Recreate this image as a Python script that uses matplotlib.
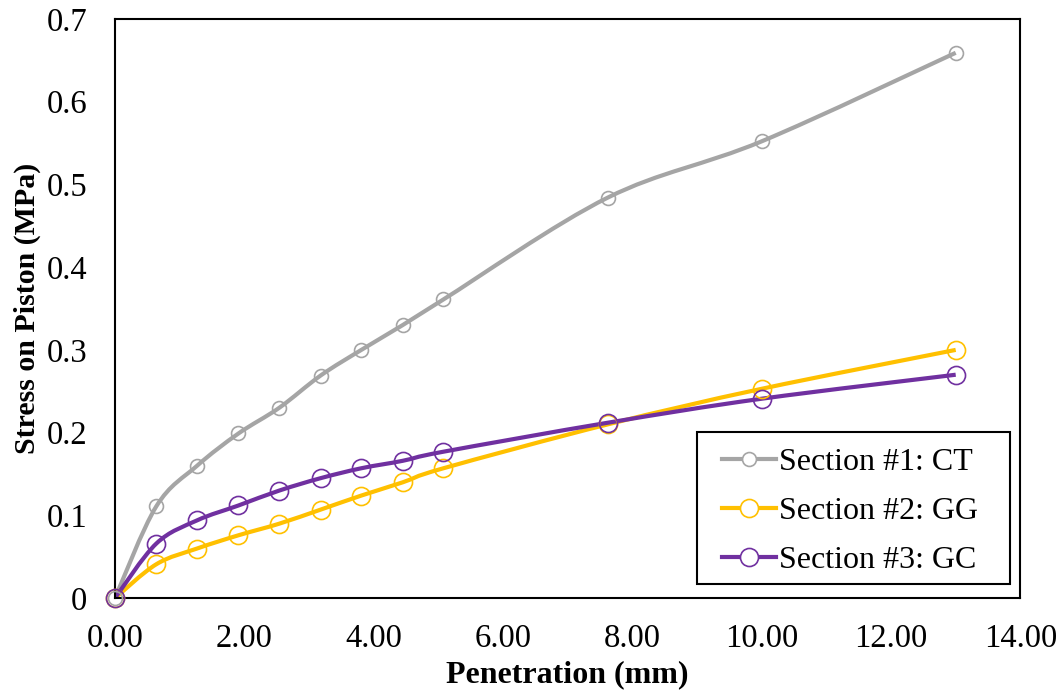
import numpy as np
import matplotlib
matplotlib.use("Agg")
import matplotlib.pyplot as plt
from matplotlib.path import Path
from matplotlib.patches import PathPatch, Rectangle
from matplotlib.lines import Line2D

plt.rcParams['font.family'] = ['Liberation Serif', 'DejaVu Serif']

# penetration readings (mm)
penetration = [0.0, 0.64, 1.27, 1.91, 2.54, 3.18, 3.81, 4.45, 5.08, 7.62, 10.0, 13.0]

# stress on piston (MPa) per section
stress_ct = [0.0, 0.111, 0.160, 0.199, 0.230, 0.269, 0.300, 0.330, 0.361, 0.484, 0.552, 0.659]
stress_gg = [0.0, 0.041, 0.060, 0.076, 0.090, 0.107, 0.124, 0.140, 0.157, 0.210, 0.253, 0.300]
stress_gc = [0.0, 0.066, 0.094, 0.112, 0.130, 0.145, 0.157, 0.166, 0.177, 0.212, 0.241, 0.270]

labels = ['Section #1: CT', 'Section #2: GG', 'Section #3: GC']
colors = ['#A5A5A5', '#FFC000', '#7030A0']
msizes = [10, 13, 13]


def smooth_path(xs, ys):
    # Catmull-Rom style bezier through the points (like a spreadsheet "smoothed line")
    pts = np.column_stack([xs, ys])
    n = len(pts)
    verts = [pts[0]]
    codes = [Path.MOVETO]
    for i in range(n - 1):
        p0 = pts[i - 1] if i > 0 else pts[i]
        p1 = pts[i]
        p2 = pts[i + 1]
        p3 = pts[i + 2] if i + 2 < n else pts[i + 1]
        c1 = p1 + (p2 - p0) / 6.0
        c2 = p2 - (p3 - p1) / 6.0
        verts += [c1, c2, p2]
        codes += [Path.CURVE4] * 3
    return Path(verts, codes)


fig = plt.figure(figsize=(10.64, 6.98), dpi=100)
ax = fig.add_axes([0.108, 0.143, 0.851, 0.830])

handles = []
for ys, lab, col, ms in zip([stress_ct, stress_gg, stress_gc], labels, colors, msizes):
    patch = PathPatch(smooth_path(penetration, ys), facecolor='none',
                      edgecolor=col, lw=3, zorder=2)
    ax.add_patch(patch)
    ax.plot(penetration, ys, ls='none', marker='o', ms=ms, mfc='none',
            mec=col, mew=1.2, zorder=3, clip_on=False)
    handles.append(Line2D([], [], color=col, lw=3, marker='o', ms=ms,
                          mfc='white', mec=col, mew=1.2))

ax.set_xlim(0, 14)
ax.set_ylim(0, 0.7)
ax.set_xticks(np.arange(0, 14.1, 2))
ax.set_xticklabels(['%.2f' % v for v in np.arange(0, 14.1, 2)])
ax.set_yticks(np.arange(0, 0.71, 0.1))
ax.set_yticklabels(['0'] + ['%.1f' % v for v in np.arange(0.1, 0.71, 0.1)])
ax.tick_params(axis='both', length=0, labelsize=23.5)
ax.tick_params(axis='x', pad=18)
ax.tick_params(axis='y', pad=20)

for s in ax.spines.values():
    s.set_linewidth(1.5)
    s.set_color('black')

ax.set_xlabel('Penetration (mm)', fontsize=23, fontweight='bold', labelpad=5)
ax.set_ylabel('Stress on Piston (MPa)', fontsize=21.5, fontweight='bold', labelpad=4)

# legend box drawn separately so its padding can be wider than tall
box = Rectangle((0.643, 0.024), 0.346, 0.263, transform=ax.transAxes,
                facecolor='white', edgecolor='black', lw=1.5, zorder=4)
ax.add_patch(box)
leg = ax.legend(handles, labels, loc='center', bbox_to_anchor=(0.812, 0.150),
                fontsize=23, frameon=False, handlelength=1.7, handletextpad=0.1,
                borderpad=0, labelspacing=0.62, borderaxespad=0)
leg.set_zorder(5)

fig.savefig('out.png', dpi=100)
